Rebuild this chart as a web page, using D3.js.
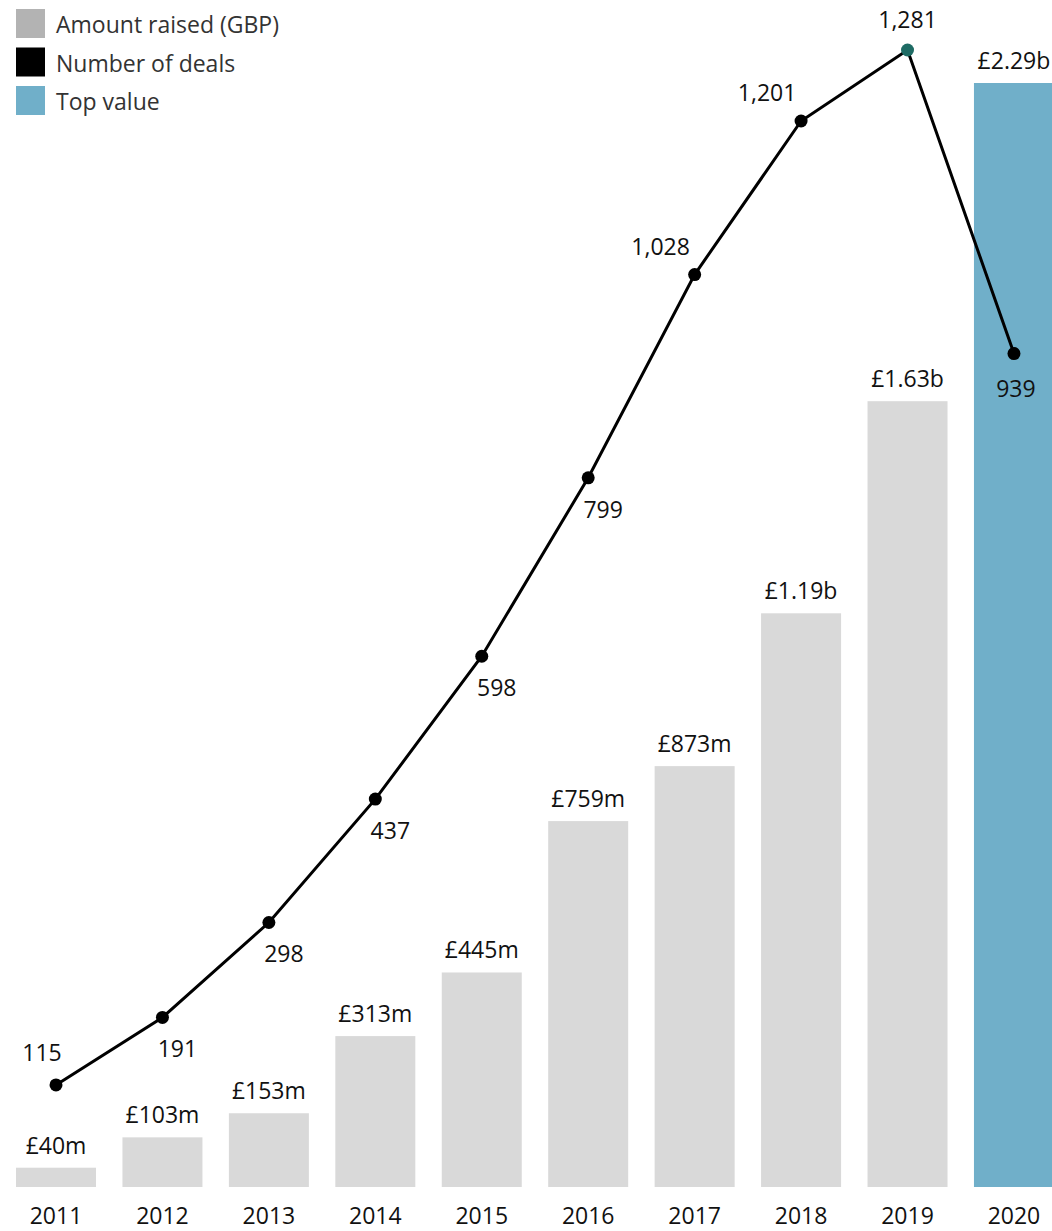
<!DOCTYPE html>
<html>
<head>
<meta charset="utf-8">
<script src="https://cdn.jsdelivr.net/npm/d3@7"></script>
<style>
  body { margin: 0; background: #fff; }
  text { font-family: "Open Sans", "Noto Sans", sans-serif; }
</style>
</head>
<body>
<div id="canvas"></div>
<script>
// years on the x axis
var years = ["2011", "2012", "2013", "2014", "2015", "2016", "2017", "2018", "2019", "2020"];
// amount raised, millions of GBP
var amountRaised = [40, 103, 153, 313, 445, 759, 873, 1190, 1630, 2290];
var amountLabels = ["£40m", "£103m", "£153m", "£313m", "£445m", "£759m", "£873m", "£1.19b", "£1.63b", "£2.29b"];
// number of deals
var deals = [115, 191, 298, 437, 598, 799, 1028, 1201, 1281, 939];
var legendItems = ["Amount raised (GBP)", "Number of deals", "Top value"];

// where each deal label sits relative to its point
var dealLabelSide = ["upleftnear", "downright", "downright", "downright", "downright", "downright", "upleft", "upleft", "up", "down"];

var width = 1052, height = 1231;
var baseY = 1187;
var fontSize = 23;

var svg = d3.select("#canvas")
  .append("svg")
  .attr("width", width)
  .attr("height", height);

//band scale for years
var xScale = d3.scaleBand()
  .domain(years)
  .range([16, 16 + 9 * 106.44 + 80])
  .paddingInner(1 - 80 / 106.44)
  .paddingOuter(0);

//bar scale and line scale share the same baseline
var yBar = d3.scaleLinear().domain([0, 2290]).range([baseY, 83]);
var yDeals = d3.scaleLinear().domain([0, 1281]).range([baseY, 50]);

var topIndex = amountRaised.indexOf(d3.max(amountRaised));
var peakIndex = deals.indexOf(d3.max(deals));

//bars
svg.selectAll("rect.bar")
  .data(amountRaised)
  .enter()
  .append("rect")
  .attr("class", "bar")
  .attr("x", function(d, i){ return xScale(years[i]) })
  .attr("y", function(d){ return yBar(d) })
  .attr("width", xScale.bandwidth())
  .attr("height", function(d){ return baseY - yBar(d) })
  .attr("fill", function(d, i){ return i === topIndex ? "#70afc9" : "#d9d9d9" });

//bar value labels
svg.selectAll("text.barlabel")
  .data(amountRaised)
  .enter()
  .append("text")
  .attr("class", "barlabel")
  .attr("x", function(d, i){ return xScale(years[i]) + xScale.bandwidth() / 2 })
  .attr("y", function(d){ return yBar(d) - 14 })
  .attr("text-anchor", "middle")
  .attr("font-size", fontSize)
  .attr("fill", "#111")
  .text(function(d, i){ return amountLabels[i] });

//year axis
var xAxis = svg.append("g")
  .attr("transform", "translate(0," + baseY + ")")
  .call(d3.axisBottom(xScale).tickSize(0).tickPadding(0));
xAxis.select(".domain").remove();
xAxis.selectAll("text")
  .attr("y", 37)
  .attr("dy", null)
  .attr("font-size", fontSize)
  .attr("font-family", "Open Sans, Noto Sans, sans-serif")
  .attr("fill", "#111");

//deals line
var genLine = d3.line()
  .x(function(d, i){ return xScale(years[i]) + xScale.bandwidth() / 2 })
  .y(function(d){ return yDeals(d) });

svg.append("path")
  .attr("d", genLine(deals))
  .attr("fill", "none")
  .attr("stroke", "#000")
  .attr("stroke-width", 3);

svg.selectAll("circle")
  .data(deals)
  .enter()
  .append("circle")
  .attr("cx", function(d, i){ return xScale(years[i]) + xScale.bandwidth() / 2 })
  .attr("cy", function(d){ return yDeals(d) })
  .attr("r", 6.5)
  .attr("fill", function(d, i){ return i === peakIndex ? "#1e6b64" : "#000" });

//deal labels
var offsets = {
  upleftnear: [-14, -24],
  upleft: [-34, -20],
  downright: [15, 40],
  up: [0, -22],
  down: [2, 43]
};
var fmt = d3.format(",");
svg.selectAll("text.deallabel")
  .data(deals)
  .enter()
  .append("text")
  .attr("class", "deallabel")
  .attr("x", function(d, i){ return xScale(years[i]) + xScale.bandwidth() / 2 + offsets[dealLabelSide[i]][0] })
  .attr("y", function(d, i){ return yDeals(d) + offsets[dealLabelSide[i]][1] })
  .attr("text-anchor", "middle")
  .attr("font-size", fontSize)
  .attr("fill", "#111")
  .text(function(d){ return fmt(d) });

//legend
var legendColors = ["#b3b3b3", "#000", "#70afc9"];
var legend = svg.selectAll("g.legend")
  .data(legendItems)
  .enter()
  .append("g")
  .attr("class", "legend")
  .attr("transform", function(d, i){ return "translate(16," + (9 + i * 38.5) + ")" });

legend.append("rect")
  .attr("width", 29)
  .attr("height", 29)
  .attr("fill", function(d, i){ return legendColors[i] });

legend.append("text")
  .attr("x", 40)
  .attr("y", 24)
  .attr("font-size", fontSize)
  .attr("fill", "#333")
  .text(function(d){ return d });
</script>
</body>
</html>
